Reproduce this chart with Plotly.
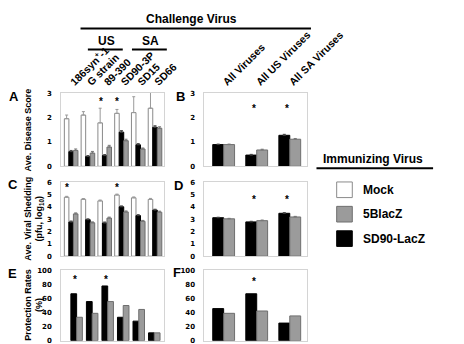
import plotly.graph_objects as go

W, H = 464, 344

# ---------------- data ----------------
challenge_viruses = ["186syn<sup>+</sup>-1", "G strain", "89-390", "SD90-3P", "SD15", "SD66"]
virus_groups = ["All Viruses", "All US Viruses", "All SA Viruses"]
immunizing = ["Mock", "5BlacZ", "SD90-LacZ"]

# Panel A: average disease score
disease_mock = [1.95, 2.10, 1.78, 2.17, 2.20, 2.38]
disease_mock_err = [0.15, 0.14, 0.60, 0.16, 0.65, 0.72]
disease_sd90 = [0.60, 0.40, 0.44, 1.40, 0.88, 1.60]
disease_sd90_err = [0.05, 0.04, 0.04, 0.06, 0.05, 0.06]
disease_5b = [0.65, 0.54, 0.79, 1.05, 0.71, 1.56]
disease_5b_err = [0.06, 0.07, 0.07, 0.06, 0.04, 0.06]

# Panel C: average viral shedding (pfu, log10)
shed_mock = [4.80, 4.63, 4.50, 4.98, 4.75, 4.62]
shed_mock_err = [0.07, 0.06, 0.07, 0.07, 0.07, 0.08]
shed_sd90 = [2.78, 2.97, 2.70, 4.02, 3.30, 3.75]
shed_sd90_err = [0.08, 0.07, 0.08, 0.07, 0.08, 0.07]
shed_5b = [3.44, 2.72, 3.10, 3.60, 2.84, 3.58]
shed_5b_err = [0.08, 0.07, 0.08, 0.08, 0.07, 0.08]

# Panel E: protection rates (%)
prot_sd90 = [66.7, 55.6, 77.8, 33.3, 27.8, 11.1]
prot_5b = [33.3, 38.9, 55.6, 50.0, 44.4, 11.1]

# Panel B: all viruses disease score
all_disease_sd90 = [0.89, 0.46, 1.27]
all_disease_sd90_err = [0.02, 0.03, 0.04]
all_disease_5b = [0.89, 0.67, 1.11]
all_disease_5b_err = [0.02, 0.03, 0.03]

# Panel D: all viruses shedding
all_shed_sd90 = [3.13, 2.79, 3.49]
all_shed_sd90_err = [0.04, 0.05, 0.05]
all_shed_5b = [3.04, 2.89, 3.19]
all_shed_5b_err = [0.04, 0.05, 0.05]

# Panel F: all viruses protection
all_prot_sd90 = [45.6, 66.7, 25.0]
all_prot_5b = [38.9, 42.2, 35.2]

# significance markers: (category index, y)
stars_A = ([2, 3], [2.7, 2.7])
stars_C = ([0, 3], [5.7, 5.7])
stars_E = ([0, 2], [88, 88])
stars_B = ([1, 2], [2.4, 2.4])
stars_D = ([1, 2], [4.7, 4.7])
stars_F = ([1], [85])

# ---------------- style ----------------
WHITE_LINE = "#8a8a8a"
GRAY = "#9b9b9b"
GRAY_LINE = "#6e6e6e"
BLACK = "#000000"
FRAME = "#d4d4d4"
TICKFONT = dict(family="DejaVu Sans", size=7, color="#000", weight="bold")
CATFONT = dict(family="Liberation Sans", size=10.5, color="#000", weight="bold")
BOLD = "Liberation Sans"


def px_x(p):
    return p / W


def px_y(p):
    return 1 - p / H


fig = go.Figure()


def bar(x, y, err, name, fill, line, axis, ecolor, offset, width):
    kw = dict(x=x, y=y, name=name, showlegend=False, offset=offset, width=width,
              marker=dict(color=fill, line=dict(color=line, width=1)),
              xaxis="x" + axis, yaxis="y" + axis)
    if err is not None:
        kw["error_y"] = dict(type="data", array=err, symmetric=False,
                             arrayminus=[0] * len(err), color=ecolor,
                             thickness=1, width=1.5)
    fig.add_trace(go.Bar(**kw))


w3 = 0.27   # three-bar groups (A, C)
w2 = 0.33   # two-bar groups (B, D, F)
wE = 0.37   # panel E
# A
bar(challenge_viruses, disease_mock, disease_mock_err, "Mock", "#ffffff", WHITE_LINE, "", "#9a9a9a", -1.5 * w3, w3)
bar(challenge_viruses, disease_sd90, disease_sd90_err, "SD90-LacZ", BLACK, BLACK, "", "#444", -0.5 * w3, w3)
bar(challenge_viruses, disease_5b, disease_5b_err, "5BlacZ", GRAY, GRAY_LINE, "", "#777", 0.5 * w3, w3)
# B
bar(virus_groups, all_disease_sd90, all_disease_sd90_err, "SD90-LacZ", BLACK, BLACK, "2", "#444", -w2, w2)
bar(virus_groups, all_disease_5b, all_disease_5b_err, "5BlacZ", GRAY, GRAY_LINE, "2", "#777", 0, w2)
# C
bar(challenge_viruses, shed_mock, shed_mock_err, "Mock", "#ffffff", WHITE_LINE, "3", "#9a9a9a", -1.5 * w3, w3)
bar(challenge_viruses, shed_sd90, shed_sd90_err, "SD90-LacZ", BLACK, BLACK, "3", "#444", -0.5 * w3, w3)
bar(challenge_viruses, shed_5b, shed_5b_err, "5BlacZ", GRAY, GRAY_LINE, "3", "#777", 0.5 * w3, w3)
# D
bar(virus_groups, all_shed_sd90, all_shed_sd90_err, "SD90-LacZ", BLACK, BLACK, "4", "#444", -w2, w2)
bar(virus_groups, all_shed_5b, all_shed_5b_err, "5BlacZ", GRAY, GRAY_LINE, "4", "#777", 0, w2)
# E
bar(challenge_viruses, prot_sd90, None, "SD90-LacZ", BLACK, BLACK, "5", None, -wE, wE)
bar(challenge_viruses, prot_5b, None, "5BlacZ", GRAY, GRAY_LINE, "5", None, 0, wE)
# F
bar(virus_groups, all_prot_sd90, None, "SD90-LacZ", BLACK, BLACK, "6", None, -w2, w2)
bar(virus_groups, all_prot_5b, None, "5BlacZ", GRAY, GRAY_LINE, "6", None, 0, w2)

# ---------------- axes ----------------
left_x = [px_x(58), px_x(170)]
right_x = [px_x(214), px_x(326)]
row1 = [px_y(158), px_y(83)]
row2 = [px_y(250), px_y(174.5)]
row3 = [px_y(336.5), px_y(264.5)]


def xax(domain, anchor, rng, labels=False):
    d = dict(domain=domain, anchor=anchor, type="category", range=rng,
             showline=True, mirror=True, linecolor=FRAME, linewidth=1,
             showgrid=False, zeroline=False, ticks="", fixedrange=True)
    if labels:
        d.update(side="top", tickangle=-45, tickfont=CATFONT, showticklabels=True)
    else:
        d.update(showticklabels=False)
    return d


def yax(domain, anchor, rng, dtick):
    return dict(domain=domain, anchor=anchor, range=rng, dtick=dtick,
                showline=True, mirror=True, linecolor=FRAME, linewidth=1,
                showgrid=False, zeroline=False, ticks="", tickfont=TICKFONT,
                ticklabelstandoff=7, fixedrange=True)


rngL = [-0.59, 5.54]
rngE = [-0.99, 5.63]
rngR = [-0.58, 2.53]

fig.update_layout(
    xaxis=xax(left_x, "y", rngL, labels=True), yaxis=yax(row1, "x", [0, 3], 1),
    xaxis2=xax(right_x, "y2", rngR, labels=True), yaxis2=yax(row1, "x2", [0, 3], 1),
    xaxis3=xax(left_x, "y3", rngL), yaxis3=yax(row2, "x3", [0, 6], 1),
    xaxis4=xax(right_x, "y4", rngR), yaxis4=yax(row2, "x4", [0, 6], 1),
    xaxis5=xax(left_x, "y5", rngE), yaxis5=yax(row3, "x5", [0, 100], 20),
    xaxis6=xax(right_x, "y6", rngR), yaxis6=yax(row3, "x6", [0, 100], 20),
)

fig.update_layout(barmode="overlay")

annotations = []
shapes = []

# stars
for axis, (idx, ys), cats, shift in [
    ("", stars_A, challenge_viruses, -4), ("3", stars_C, challenge_viruses, -4),
    ("5", stars_E, challenge_viruses, -2), ("2", stars_B, virus_groups, -3),
    ("4", stars_D, virus_groups, -3), ("6", stars_F, virus_groups, -3)]:
    for i, yv in zip(idx, ys):
        annotations.append(dict(x=cats[i], y=yv, xref="x" + axis, yref="y" + axis,
                                text="*", showarrow=False, xshift=shift, yshift=-1,
                                font=dict(family=BOLD, size=10, color="#000", weight="bold")))


def ann(text, x, y, size, angle=0, weight="bold", xanchor="center", yanchor="middle", family=BOLD):
    annotations.append(dict(text=text, x=px_x(x), y=px_y(y), xref="paper", yref="paper",
                            showarrow=False, textangle=angle, xanchor=xanchor, yanchor=yanchor,
                            font=dict(family=family, size=size, color="#000", weight=weight)))


def hline(x0, x1, y, w=2):
    shapes.append(dict(type="line", xref="paper", yref="paper",
                       x0=px_x(x0), x1=px_x(x1), y0=px_y(y), y1=px_y(y),
                       line=dict(color="#000", width=w)))


# headers
ann("Challenge Virus", 200, 7, 12)
hline(79, 330, 17)
ann("US", 107, 30, 12)
hline(87, 125, 38.5)
ann("SA", 155, 30, 12)
hline(135, 173, 38.5)

# panel letters
for t, x, y in [("A", 6, 86), ("B", 188, 86), ("C", 5, 177), ("D", 186, 178),
                ("E", 5, 268), ("F", 184, 267)]:
    ann(t, x, y, 13)

# y titles
ann("Ave. Disease Score", 22, 121, 9, angle=-90, weight=600)
ann("Ave. Viral Shedding<br>(pfu, log<sub>10</sub>)", 28, 212, 9, angle=-90, weight=600)
ann("Protection Rates<br>(%)", 28, 300, 9, angle=-90, weight=600)

# legend
ann("Immunizing Virus", 398, 151, 12)
hline(336, 463, 160)
legend_items = [(immunizing[0], "#ffffff", WHITE_LINE, 174),
                (immunizing[1], GRAY, GRAY_LINE, 199),
                (immunizing[2], BLACK, BLACK, 224)]
for name, fill, line, y0 in legend_items:
    shapes.append(dict(type="rect", xref="paper", yref="paper",
                       x0=px_x(358), x1=px_x(375), y0=px_y(y0 + 16), y1=px_y(y0),
                       fillcolor=fill, line=dict(color=line, width=1)))
    ann(name, 385, y0 + 8, 12, xanchor="left")

fig.update_layout(
    width=W, height=H, margin=dict(l=0, r=0, t=0, b=0),
    paper_bgcolor="#ffffff", plot_bgcolor="#ffffff",
    annotations=annotations, shapes=shapes, showlegend=False,
    font=dict(family=BOLD),
)

fig.write_html("out.html")
